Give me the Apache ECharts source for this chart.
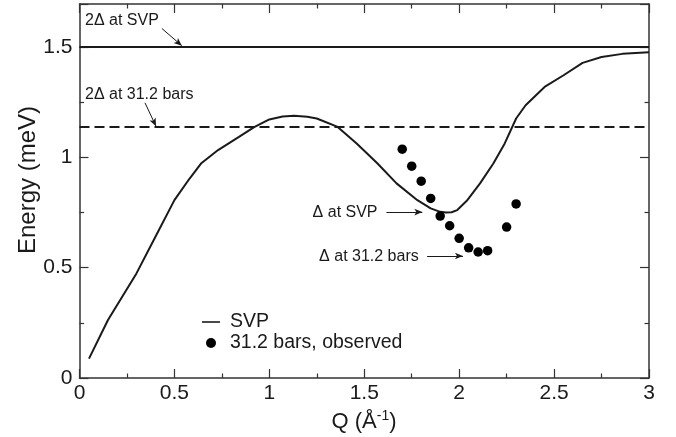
<!DOCTYPE html>
<html>
<head>
<meta charset="utf-8">
<script src="https://cdn.jsdelivr.net/npm/echarts@6/dist/echarts.min.js"></script>
<style>
  html, body { margin: 0; padding: 0; background: #fff; }
  #chart { width: 676px; height: 437px; }
</style>
</head>
<body>
<div id="chart"></div>
<script>
// Roton-region dispersion: SVP curve and observed points at 31.2 bars
const svpQ = [0.05, 0.15, 0.30, 0.40, 0.50, 0.58, 0.64, 0.73, 0.84, 0.92, 1.00, 1.07, 1.13, 1.20, 1.25, 1.36, 1.46, 1.57, 1.67, 1.78, 1.85, 1.90, 1.93, 1.96, 1.99, 2.04, 2.11, 2.18, 2.24, 2.30, 2.35, 2.45, 2.55, 2.65, 2.75, 2.86, 3.00];
const svpE = [0.088, 0.263, 0.474, 0.640, 0.806, 0.904, 0.972, 1.033, 1.093, 1.137, 1.172, 1.185, 1.188, 1.184, 1.176, 1.138, 1.063, 0.972, 0.882, 0.806, 0.769, 0.753, 0.750, 0.751, 0.761, 0.803, 0.882, 0.972, 1.063, 1.176, 1.236, 1.319, 1.372, 1.428, 1.455, 1.469, 1.476];

const obsQ = [1.70, 1.75, 1.80, 1.85, 1.90, 1.95, 2.00, 2.05, 2.10, 2.15, 2.25, 2.30];
const obsE = [1.037, 0.960, 0.892, 0.814, 0.734, 0.690, 0.633, 0.590, 0.571, 0.577, 0.684, 0.789];

// Twice the roton gap (meV)
const gapSVP = 1.5;
const gap312 = 1.137;

const xTicks = [0, 0.5, 1, 1.5, 2, 2.5, 3];
const yTicks = [0, 0.5, 1, 1.5];

// Annotation texts with anchor (Q, E) and arrows (start -> end)
const notes = [
  { text: '2\u0394 at SVP',       q: 0.029, e: 1.621, align: 'left' },
  { text: '2\u0394 at 31.2 bars', q: 0.029, e: 1.286, align: 'left' },
  { text: '\u0394 at SVP',        q: 1.570, e: 0.750, align: 'right' },
  { text: '\u0394 at 31.2 bars',  q: 1.787, e: 0.549, align: 'right' }
];
const arrows = [
  [[0.434, 1.584], [0.539, 1.506]],
  [[0.345, 1.247], [0.403, 1.141]],
  [[1.617, 0.752], [1.806, 0.752]],
  [[1.831, 0.553], [2.020, 0.553]]
];

const FONT = 'Liberation Sans, Arial, Helvetica, sans-serif';
const INK = '#1a1a1a';
const AXIS = '#333';

function fmtFrom(list) {
  return v => list.indexOf(Math.round(v * 1000) / 1000) >= 0 ? String(+v.toFixed(2)) : '';
}

function axisParts() {
  return {
    axisLine: { show: true, onZero: false, lineStyle: { color: AXIS, width: 1.5 } },
    axisTick: { show: true, inside: true, length: 9, lineStyle: { color: AXIS, width: 1.2 } },
    minorTick: { show: true, splitNumber: 2, length: 4.5, lineStyle: { color: AXIS, width: 1.2 } },
    splitLine: { show: false },
    minorSplitLine: { show: false }
  };
}

const chart = echarts.init(document.getElementById('chart'), null, { renderer: 'canvas' });

chart.setOption({
  animation: false,
  backgroundColor: '#fff',
  grid: { left: 79.5, right: 27, top: 4, bottom: 59, containLabel: false },
  xAxis: [
    Object.assign({
      type: 'value', min: 0, max: 3, interval: 0.5, position: 'bottom',
      axisLabel: { color: INK, fontSize: 21, fontFamily: FONT, margin: 5, formatter: fmtFrom(xTicks) }
    }, axisParts()),
    Object.assign({
      type: 'value', min: 0, max: 3, interval: 0.5, position: 'top',
      axisLabel: { show: false }
    }, axisParts())
  ],
  yAxis: [
    Object.assign({
      type: 'value', min: 0, max: 1.695, interval: 0.5, position: 'left',
      axisLabel: { color: INK, fontSize: 21, fontFamily: FONT, margin: 7, formatter: fmtFrom(yTicks), showMaxLabel: false }
    }, axisParts()),
    Object.assign({
      type: 'value', min: 0, max: 1.695, interval: 0.5, position: 'right',
      axisLabel: { show: false }
    }, axisParts())
  ],
  legend: {
    orient: 'vertical', left: 197, top: 307, itemWidth: 18, itemHeight: 10, itemGap: 1,
    textStyle: { color: INK, fontSize: 19.5, fontFamily: FONT, padding: [0, 0, 0, 5] },
    data: [
      { name: 'SVP', icon: 'path://M0,0 L18,0 L18,1.6 L0,1.6 Z' },
      { name: '31.2 bars, observed', icon: 'circle', itemStyle: { color: '#000', opacity: 1 } }
    ],
    selectedMode: false
  },
  series: [
    {
      name: 'SVP', type: 'line', symbol: 'none', smooth: false,
      lineStyle: { color: INK, width: 2 },
      itemStyle: { color: INK },
      data: svpQ.map((q, i) => [q, svpE[i]]),
      z: 3,
      markLine: {
        silent: true, symbol: ['none', 'none'],
        label: { show: false },
        data: [
          { yAxis: gapSVP, lineStyle: { color: INK, width: 2, type: 'solid' } },
          { yAxis: gap312, lineStyle: { color: INK, width: 1.8, type: [10, 5] } }
        ]
      }
    },
    {
      name: '31.2 bars, observed', type: 'scatter', symbol: 'circle', symbolSize: 9.5,
      itemStyle: { color: '#000', opacity: 1 },
      data: obsQ.map((q, i) => [q, obsE[i]]),
      z: 4
    },
    {
      name: 'arrows', type: 'line', data: [], silent: true,
      markLine: {
        silent: true, symbol: ['none', 'arrow'], symbolSize: [5, 8],
        label: { show: false },
        lineStyle: { color: INK, width: 1, type: 'solid' },
        data: arrows.map(a => [{ coord: a[0] }, { coord: a[1] }])
      }
    }
  ]
});

// Annotation texts and axis titles
const graphics = notes.map(n => {
  const p = chart.convertToPixel({ xAxisIndex: 0, yAxisIndex: 0 }, [n.q, n.e]);
  return {
    type: 'text', x: p[0], y: p[1],
    style: { text: n.text, fill: INK, fontSize: 16, fontFamily: FONT, align: n.align, verticalAlign: 'middle' }
  };
});
graphics.push({
  type: 'text', x: 28, y: 180, rotation: Math.PI / 2,
  style: { text: 'Energy (meV)', fill: INK, fontSize: 24, fontFamily: FONT, align: 'center', verticalAlign: 'middle' }
});
graphics.push({
  type: 'text', x: 364, y: 422,
  style: {
    text: '{a|Q (\u00C5}{s|-1}{a|)}', align: 'center', verticalAlign: 'middle',
    rich: {
      a: { fill: INK, fontSize: 22, fontFamily: FONT, lineHeight: 26 },
      s: { fill: INK, fontSize: 14, fontFamily: FONT, lineHeight: 26, verticalAlign: 'top', padding: [0, 0, 8, 0] }
    }
  }
});
chart.setOption({ graphic: graphics });
</script>
</body>
</html>
